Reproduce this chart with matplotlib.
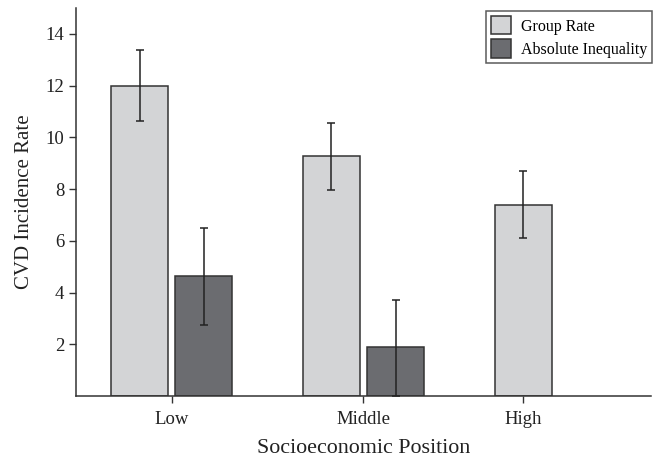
import matplotlib
matplotlib.use("Agg")
import matplotlib.pyplot as plt
import numpy as np

categories = ["Low", "Middle", "High"]
group_rate = [12.0, 9.28, 7.39]
group_lo = [10.65, 7.98, 6.09]
group_hi = [13.39, 10.57, 8.68]
abs_ineq = [4.63, 1.88]
abs_lo = [2.75, 0.0]
abs_hi = [6.5, 3.71]

plt.rcParams['font.family'] = ['Liberation Serif', 'DejaVu Serif']

fig = plt.figure(figsize=(6.54, 4.59), dpi=100)
ax = fig.add_axes([0.1162, 0.1373, 0.8792, 0.8453])

w = 0.298
off = 0.167
light = '#d3d4d6'
dark = '#6b6c70'
edge = '#333333'

x = np.arange(len(categories))
xg = x - off
xa = x[:len(abs_ineq)] + off

gr = np.array(group_rate)
ai = np.array(abs_ineq)
ax.bar(xg, gr, width=w, color=light, edgecolor=edge, linewidth=1.1, label='Group Rate', zorder=2)
ax.bar(xa, ai, width=w, color=dark, edgecolor=edge, linewidth=1.1, label='Absolute Inequality', zorder=2)
ax.errorbar(xg, gr, yerr=[gr - np.array(group_lo), np.array(group_hi) - gr],
            fmt='none', ecolor='#222222', elinewidth=1.1, capsize=3, capthick=1.1, zorder=3)
ax.errorbar(xa, ai, yerr=[ai - np.array(abs_lo), np.array(abs_hi) - ai],
            fmt='none', ecolor='#222222', elinewidth=1.1, capsize=3, capthick=1.1, zorder=3)

ax.set_xlim(-0.5, 2.5)
ax.set_ylim(0, 15)
ax.set_yticks([2, 4, 6, 8, 10, 12, 14])
tick_pos = [x[0], x[1], xg[2]]
ax.set_xticks(tick_pos)
ax.set_xticklabels(categories)

for s in ['top', 'right']:
    ax.spines[s].set_visible(False)
for s in ['left', 'bottom']:
    ax.spines[s].set_color('#333333')
    ax.spines[s].set_linewidth(1.1)
ax.tick_params(axis='both', direction='out', length=5, width=1.0, colors='#333333',
               labelsize=13.5, labelcolor='#222222')
ax.tick_params(axis='x', pad=5.5)

ax.set_xlabel('Socioeconomic Position', fontsize=15.8, color='#222222', labelpad=8.5)
ax.set_ylabel('CVD Incidence Rate', fontsize=15, color='#222222', labelpad=8)

leg = ax.legend(loc='upper right', bbox_to_anchor=(1.01, 1.004), fontsize=11.5,
                frameon=True, fancybox=False, edgecolor='#333333',
                handlelength=1.3, handleheight=1.4, handletextpad=0.6,
                borderpad=0.3, labelspacing=0.3, borderaxespad=0.3)
leg.get_frame().set_linewidth(1.1)

fig.savefig('out.png', dpi=100)
